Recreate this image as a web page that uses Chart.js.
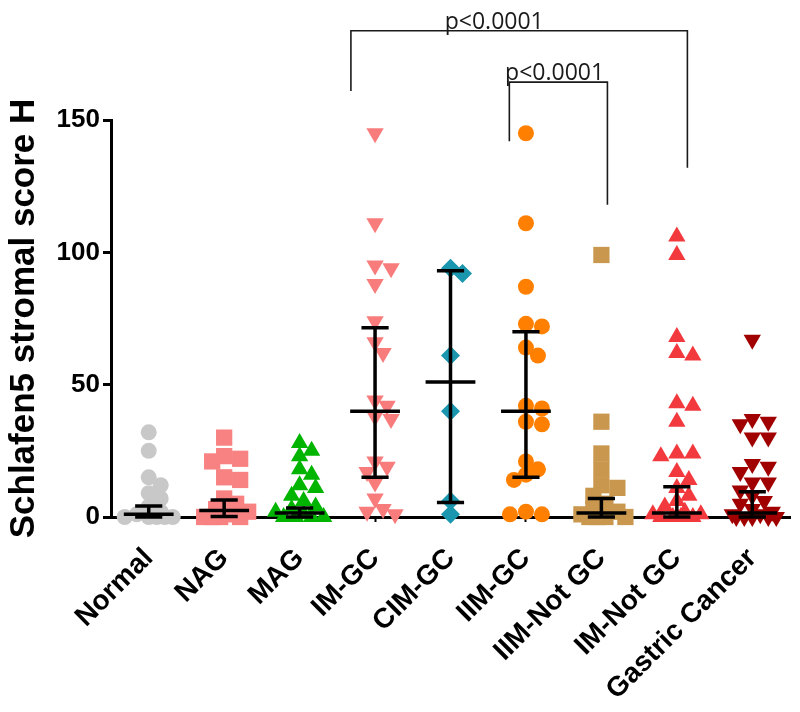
<!DOCTYPE html>
<html><head><meta charset="utf-8">
<script src="https://cdn.jsdelivr.net/npm/chart.js@4.4.0/dist/chart.umd.min.js"></script>
<style>html,body{margin:0;padding:0;background:#fff;}#wrap{width:800px;height:712px;}</style>
</head><body><div id="wrap"><canvas id="c" width="800" height="712"></canvas></div>
<script>
// ---------- data ----------
const categories = ['Normal','NAG','MAG','IM-GC','CIM-GC','IIM-GC','IIM-Not GC','IM-Not GC','Gastric Cancer'];
const normal   = [32, 25, 15, 12, 9, 7, 4, 2, 1, 0, 0, 0, 0, 0];
const nag      = [30, 23, 22, 21, 15, 14, 7, 5, 3, 2, 1, 0, 0, 0, 0];
const mag      = [28, 25, 23, 18, 16, 12, 11, 8, 6, 4, 3, 2, 1, 0, 0, 0, 0];
const imGC     = [145, 111, 95, 94, 88, 74, 66, 62, 44, 42, 38, 37, 21, 19, 17, 13, 7, 3, 2, 1];
const cimGC    = [94, 92, 61, 40, 6, 1];
const iimGC    = [145, 111, 87, 73, 72, 64, 61, 42, 41, 36, 35, 21, 18, 16, 14, 2, 1, 1];
const iimNotGC = [99, 36, 24, 18, 12, 11, 8, 5, 3, 2, 1, 0, 0, 0, 0];
const imNotGC  = [106, 99, 68, 62, 61, 43, 42, 36, 24, 24, 23, 17, 14, 11, 8, 6, 4, 2, 1, 1, 0, 0, 0, 0, 0];
const gastric  = [67, 37, 36, 35, 30, 30, 20, 19, 17, 13, 13, 10, 8, 6, 5, 3, 2, 1, 1, 0, 0, 0, 0, 0];
const groups = [normal, nag, mag, imGC, cimGC, iimGC, iimNotGC, imNotGC, gastric];
const medians = [1, 2.5, 1.5, 40, 51, 40, 1.5, 1.5, 1.5];
const q1      = [0, 0.2, 0, 15, 5.5, 15, 0, 0, 0];
const q3      = [4.2, 6.4, 3.4, 71.5, 93, 70, 7, 11.4, 9.5];
const yTicks  = [0, 50, 100, 150];
const pText   = 'p<0.0001';

// ---------- styles ----------
const styles = [
  {color:'#c8c8c8', shape:'circle',   r:8,    rot:0},
  {color:'#f88282', shape:'rect',     r:11.5, rot:0},
  {color:'#00b400', shape:'triangle', r:10,   rot:0},
  {color:'#f87c7c', shape:'triangle', r:10,   rot:180},
  {color:'#1a96ae', shape:'rectRot',  r:9.5,  rot:0},
  {color:'#ff8000', shape:'circle',   r:8,    rot:0},
  {color:'#c9974d', shape:'rect',     r:11.5, rot:0},
  {color:'#f23a3e', shape:'triangle', r:10,   rot:0},
  {color:'#a00000', shape:'triangle', r:10,   rot:180}
];
// significance brackets (category position, value units)
const brackets = [
  {x1:2.68, x2:7.14, top:183.7, end1:161, end2:132, tx:4.58},
  {x1:4.78, x2:6.08, top:164.3, end1:142, end2:118, tx:5.38}
];
const FONT = "'Liberation Sans', Arial, sans-serif";

const datasets = groups.map((vals,i)=>({
  label: categories[i],
  data: vals.map(v=>({x:i, y:v})),
  pointStyle: styles[i].shape,
  pointRadius: styles[i].r,
  pointHoverRadius: styles[i].r,
  rotation: styles[i].rot,
  backgroundColor: styles[i].color,
  borderColor: styles[i].color,
  borderWidth: 0,
  clip: false
}));

const errorBars = {
  id:'errorBars',
  afterDatasetsDraw(chart){
    const {ctx, scales:{x,y}} = chart;
    const unit = x.getPixelForValue(1) - x.getPixelForValue(0);
    ctx.save();
    ctx.strokeStyle = '#000';
    ctx.lineWidth = 3.5;
    medians.forEach((m,i)=>{
      const cx = x.getPixelForValue(i);
      const yt = y.getPixelForValue(q3[i]), yb = y.getPixelForValue(q1[i]), ym = y.getPixelForValue(m);
      const cap = unit*0.18, mw = unit*0.33;
      ctx.beginPath();
      ctx.moveTo(cx,yt); ctx.lineTo(cx,yb);
      ctx.moveTo(cx-cap,yt); ctx.lineTo(cx+cap,yt);
      ctx.moveTo(cx-cap,yb); ctx.lineTo(cx+cap,yb);
      ctx.moveTo(cx-mw,ym); ctx.lineTo(cx+mw,ym);
      ctx.stroke();
    });
    ctx.restore();
  }
};

const bracketPlugin = {
  id:'brackets',
  afterDraw(chart){
    const {ctx, scales:{x,y}} = chart;
    ctx.save();
    ctx.strokeStyle = '#1a1a1a';
    ctx.lineWidth = 1.6;
    ctx.fillStyle = '#1a1a1a';
    ctx.font = "23px 'Open Sans', sans-serif";
    ctx.textAlign = 'center';
    ctx.textBaseline = 'bottom';
    brackets.forEach(b=>{
      const x1 = x.getPixelForValue(b.x1), x2 = x.getPixelForValue(b.x2);
      const yt = y.getPixelForValue(b.top);
      ctx.beginPath();
      ctx.moveTo(x1, y.getPixelForValue(b.end1));
      ctx.lineTo(x1, yt); ctx.lineTo(x2, yt);
      ctx.lineTo(x2, y.getPixelForValue(b.end2));
      ctx.stroke();
      ctx.fillText(pText, x.getPixelForValue(b.tx), yt + 3);
    });
    ctx.restore();
  }
};

const chart = new Chart(document.getElementById('c'), {
  type:'scatter',
  data:{datasets},
  plugins:[errorBars, bracketPlugin],
  options:{
    responsive:false,
    animation:false,
    devicePixelRatio:1,
    layout:{padding:{top:120, right:10, bottom:0, left:0}, autoPadding:false},
    plugins:{legend:{display:false}, tooltip:{enabled:false}},
    scales:{
      x:{
        type:'linear', min:-0.5, max:8.5, z:1,
        afterBuildTicks(s){ s.ticks = categories.map((_,i)=>({value:i})); },
        afterFit(s){ s.height = 195; },
        border:{display:true, color:'#000', width:3},
        grid:{display:true, drawOnChartArea:false, drawTicks:true, tickLength:5, tickWidth:2, tickColor:'#000', color:'#000'},
        ticks:{autoSkip:false, maxRotation:45, minRotation:45, padding:20, color:'#000',
          font:{family:FONT, size:28, weight:'bold'},
          callback:(v)=>categories[v] ?? ''}
      },
      y:{
        min:0, max:150, z:1,
        afterBuildTicks(s){ s.ticks = yTicks.map(v=>({value:v})); },
        afterFit(s){ s.width = 111; },
        border:{display:true, color:'#000', width:3},
        grid:{display:true, drawOnChartArea:false, drawTicks:true, tickLength:8, tickWidth:3, tickColor:'#000', color:'#000'},
        ticks:{padding:3, color:'#000', font:{family:FONT, size:26, weight:'bold'}},
        title:{display:true, text:'Schlafen5 stromal score H', color:'#000',
          font:{family:FONT, size:35, weight:'bold'}, padding:{top:3, bottom:2}}
      }
    }
  }
});

// arrange points side by side (beeswarm) using the chart's own scales
(function swarm(){
  const x = chart.scales.x, y = chart.scales.y;
  const unit = x.getPixelForValue(1) - x.getPixelForValue(0);
  const minD = 13, step = 4, maxOff = 24;
  chart.data.datasets.forEach((ds,i)=>{
    const placed = [];
    ds.data = groups[i].map(v=>{
      const py = y.getPixelForValue(v);
      let best = 0, bestScore = -1;
      for (let k=0; ; k++){
        const off = k===0 ? 0 : (k%2 ? 1 : -1) * Math.ceil(k/2) * step;
        if (Math.abs(off) > maxOff) break;
        let md = Infinity;
        for (const p of placed) md = Math.min(md, Math.hypot(p[0]-off, p[1]-py));
        if (md >= minD){ best = off; bestScore = md; break; }
        if (md > bestScore){ bestScore = md; best = off; }
      }
      placed.push([best, py]);
      return {x: i + best/unit, y: v};
    });
  });
  chart.update('none');
})();
</script>
</body></html>
